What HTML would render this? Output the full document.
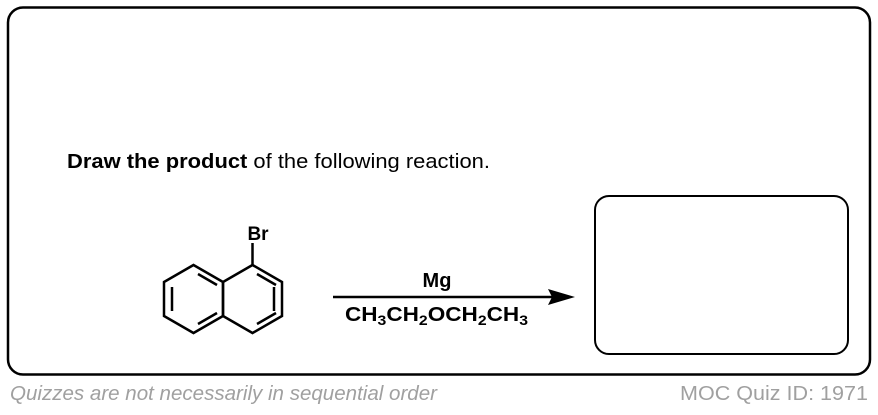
<!DOCTYPE html>
<html><head><style>
body{margin:0;background:#fff;width:878px;height:410px;overflow:hidden}
svg text{font-family:"Liberation Sans",sans-serif}
</style></head><body>
<svg width="878" height="410" viewBox="0 0 878 410" xmlns="http://www.w3.org/2000/svg">
<rect x="8" y="7.5" width="862" height="367" rx="15" fill="none" stroke="#000" stroke-width="2.5"/>
<rect x="595" y="196" width="253" height="158" rx="14" fill="none" stroke="#000" stroke-width="2"/>
<text x="67" y="168" font-size="20" textLength="423" lengthAdjust="spacingAndGlyphs"><tspan font-weight="bold">Draw the product</tspan> of the following reaction.</text>
<g fill="none" stroke="#000" stroke-width="2.5" stroke-linejoin="miter">
<polygon points="193.5,265 223,282 223,316 193.5,333 164,316 164,282"/>
<polygon points="252.5,265 282,282 282,316 252.5,333 223,316 223,282"/>
<line x1="172" y1="287" x2="172" y2="311"/>
<line x1="198" y1="274" x2="217" y2="285"/>
<line x1="198" y1="324" x2="217" y2="313"/>
<line x1="274" y1="287" x2="274" y2="311"/>
<line x1="257" y1="274" x2="276" y2="285" />
<line x1="257" y1="324" x2="276" y2="313"/>
<line x1="252.5" y1="265" x2="252.5" y2="243"/>
</g>
<text x="258" y="240" font-size="19" font-weight="bold" text-anchor="middle">Br</text>
<line x1="333" y1="297" x2="552" y2="297" stroke="#000" stroke-width="2.5"/>
<polygon points="575,297 548,289 552,297 548,305" fill="#000"/>
<text x="437" y="287" font-size="20" font-weight="bold" text-anchor="middle">Mg</text>
<text x="345" y="321" font-size="20" font-weight="bold" textLength="183" lengthAdjust="spacingAndGlyphs">CH<tspan font-size="14" dy="4">3</tspan><tspan dy="-4">CH</tspan><tspan font-size="14" dy="4">2</tspan><tspan dy="-4">OCH</tspan><tspan font-size="14" dy="4">2</tspan><tspan dy="-4">CH</tspan><tspan font-size="14" dy="4">3</tspan></text>
<text x="10" y="400" font-size="20" font-style="italic" fill="#a0a0a0" textLength="427" lengthAdjust="spacingAndGlyphs">Quizzes are not necessarily in sequential order</text>
<text x="680" y="400" font-size="20" fill="#a0a0a0" textLength="188" lengthAdjust="spacingAndGlyphs">MOC Quiz ID: 1971</text>
</svg>
</body></html>
